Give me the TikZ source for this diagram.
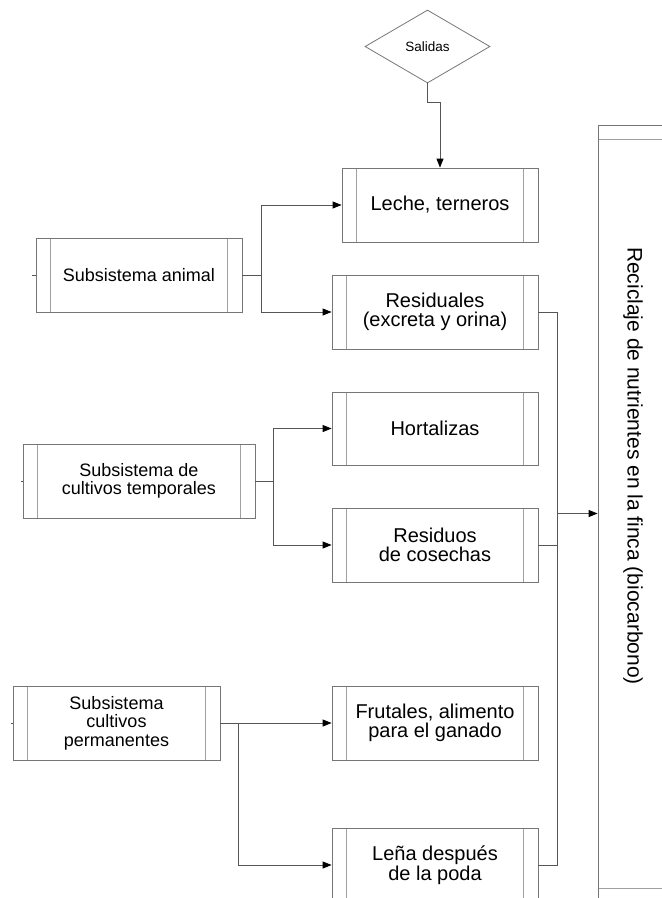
\documentclass[tikz,border=0pt]{standalone}
\usepackage{fontspec}
\setmainfont{Liberation Sans}
\usetikzlibrary{shapes.geometric,arrows.meta}
\definecolor{boxgray}{RGB}{118,118,118}
\definecolor{innergray}{RGB}{160,160,160}
\definecolor{linegray}{RGB}{85,85,85}
\begin{document}
\begin{tikzpicture}[x = 1pt, y = -1pt]
\tikzstyle{innerLine} = [draw = innergray, line width = 0.8pt]
\tikzstyle{boxStyle} = [shape = rectangle, draw = boxgray, line width = 0.8pt, minimum height = 74pt, inner sep = 0pt, align = center, font = \fontsize{20}{18.5}\selectfont,
  path picture = {\draw[innerLine] ([xshift = 14.5pt]path picture bounding box.north west) -- ([xshift = 14.5pt]path picture bounding box.south west);
                  \draw[innerLine] ([xshift = -14.5pt]path picture bounding box.north east) -- ([xshift = -14.5pt]path picture bounding box.south east);}]
\tikzstyle{subStyle} = [boxStyle, font = \fontsize{18}{18.5}\selectfont]
\tikzstyle{diamondStyle} = [shape = diamond, draw = boxgray, line width = 0.8pt, minimum width = 125pt, minimum height = 73pt, inner sep = 0pt, font = \fontsize{13.5}{14}\selectfont]
\tikzstyle{bigStyle} = [shape = rectangle, draw = boxgray, line width = 0.8pt, minimum width = 68pt, minimum height = 777pt, inner sep = 0pt,
  path picture = {\draw[innerLine] ([yshift = -14pt]path picture bounding box.north west) -- ([yshift = -14pt]path picture bounding box.north east);
                  \draw[innerLine] ([yshift = 14pt]path picture bounding box.south west) -- ([yshift = 14pt]path picture bounding box.south east);}]
\tikzstyle{EdgeStyle} = [draw = linegray, line width = 0.8pt]
\tikzstyle{ArrowStyle} = [EdgeStyle, -{Triangle[length = 9pt, width = 7pt, color = black]}]
\clip (0,0) rectangle (662,898);
\node[diamondStyle] (v0) at (427.5,46.5) {Salidas};
\node[boxStyle, minimum width = 196pt] (v1) at (440,205) {Leche, terneros};
\node[boxStyle, minimum width = 206pt] (v2) at (435,312) {Residuales\\(excreta y orina)};
\node[boxStyle, minimum width = 206pt, minimum height = 73pt] (v3) at (435,428.5) {Hortalizas};
\node[boxStyle, minimum width = 206pt] (v4) at (435,545) {Residuos\\de cosechas};
\node[boxStyle, minimum width = 206pt] (v5) at (435,723) {Frutales, alimento\\para el ganado};
\node[boxStyle, minimum width = 206pt] (v6) at (435,865) {Leña después\\de la poda};
\node[subStyle, minimum width = 206pt] (v7) at (139,275) {Subsistema animal};
\node[subStyle, minimum width = 232pt] (v8) at (139,481) {Subsistema de\\cultivos temporales};
\node[subStyle, minimum width = 207pt] (v9) at (116.5,723) {Subsistema\\cultivos\\permanentes};
\node[bigStyle] (v10) at (632,513.5) {};
\node[rotate = -90, font = \fontsize{21}{21}\selectfont, inner sep = 0pt] (v11) at (633,466) {Reciclaje de nutrientes en la finca (biocarbono)};
\coordinate (c0) at (261,275);
\coordinate (c1) at (273,481);
\coordinate (c2) at (238,723);
\coordinate (c3) at (557,513.5);
\coordinate (c4) at (32,275);
\coordinate (c5) at (21,481);
\coordinate (c6) at (11,723);
\draw[ArrowStyle] (v0.south) -- ++(0,19) -| (v1.north);
\draw[EdgeStyle] (v7.east) -- (c0);
\draw[ArrowStyle] (c0) |- (v1.west);
\draw[ArrowStyle] (c0) |- (v2.west);
\draw[EdgeStyle] (v8.east) -- (c1);
\draw[ArrowStyle] (c1) |- (v3.west);
\draw[ArrowStyle] (c1) |- (v4.west);
\draw[ArrowStyle] (v9.east) -- (v5.west);
\draw[ArrowStyle] (c2) |- (v6.west);
\draw[EdgeStyle] (v2.east) -| (c3);
\draw[EdgeStyle] (v4.east) -| (c3);
\draw[EdgeStyle] (v6.east) -| (c3);
\draw[ArrowStyle] (c3) -- (v10.west);
\draw[EdgeStyle] (c4) -- (v7.west);
\draw[EdgeStyle] (c5) -- (v8.west);
\draw[EdgeStyle] (c6) -- (v9.west);
\end{tikzpicture}
\end{document}
